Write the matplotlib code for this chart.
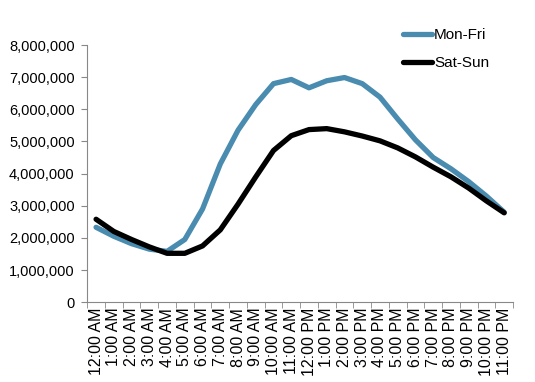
import matplotlib
matplotlib.use("Agg")
import matplotlib.pyplot as plt
import numpy as np
from matplotlib.ticker import FuncFormatter, FixedLocator

plt.rcParams["font.family"] = ["Liberation Sans", "DejaVu Sans"]

# Données
HOURS = ["12:00 AM", "1:00 AM", "2:00 AM", "3:00 AM", "4:00 AM", "5:00 AM",
         "6:00 AM", "7:00 AM", "8:00 AM", "9:00 AM", "10:00 AM", "11:00 AM",
         "12:00 PM", "1:00 PM", "2:00 PM", "3:00 PM", "4:00 PM", "5:00 PM",
         "6:00 PM", "7:00 PM", "8:00 PM", "9:00 PM", "10:00 PM", "11:00 PM"]

mon_fri = [2330000, 2050000, 1820000, 1650000, 1580000, 1950000,
           2900000, 4300000, 5350000, 6150000, 6800000, 6930000,
           6670000, 6890000, 6990000, 6800000, 6380000, 5700000,
           5050000, 4500000, 4150000, 3750000, 3300000, 2800000]

sat_sun = [2580000, 2200000, 1950000, 1720000, 1520000, 1520000,
           1750000, 2250000, 3050000, 3900000, 4720000, 5180000,
           5370000, 5400000, 5300000, 5170000, 5020000, 4800000,
           4520000, 4200000, 3900000, 3550000, 3150000, 2780000]

COLORS = {"Mon-Fri": "#4a8bb0", "Sat-Sun": "#000000"}

fig = plt.figure(figsize=(5.35, 3.82), dpi=100)
ax = fig.add_axes([0.163, 0.209, 0.796, 0.673])

x = np.arange(len(HOURS))
ax.plot(x, mon_fri, color=COLORS["Mon-Fri"], lw=3.8, label="Mon-Fri",
        solid_capstyle="round", solid_joinstyle="round")
ax.plot(x, sat_sun, color=COLORS["Sat-Sun"], lw=3.8, label="Sat-Sun",
        solid_capstyle="round", solid_joinstyle="round")

ax.set_xlim(-0.5, len(HOURS) - 0.5)
ax.set_ylim(0, 8000000)
ax.set_yticks(np.arange(0, 8000001, 1000000))
ax.yaxis.set_major_formatter(FuncFormatter(lambda v, p: f"{int(v):,}"))

ax.set_xticks(x)
ax.set_xticklabels(HOURS, rotation=90)
ax.xaxis.set_minor_locator(FixedLocator(np.arange(-0.5, len(HOURS), 1)))
ax.tick_params(axis="x", which="major", length=0, pad=4, labelsize=11.5)
ax.tick_params(axis="x", which="minor", length=4, color="#888888")
ax.tick_params(axis="y", length=4, color="#888888", pad=5, labelsize=10.5)

for side in ["top", "right"]:
    ax.spines[side].set_visible(False)
for side in ["left", "bottom"]:
    ax.spines[side].set_color("#888888")
    ax.spines[side].set_linewidth(0.8)

leg = ax.legend(loc="upper left", bbox_to_anchor=(0.71, 1.12), frameon=False,
                fontsize=11, handlelength=1.9, handletextpad=0.1,
                labelspacing=0.95)

fig.savefig("out.png", dpi=100)
